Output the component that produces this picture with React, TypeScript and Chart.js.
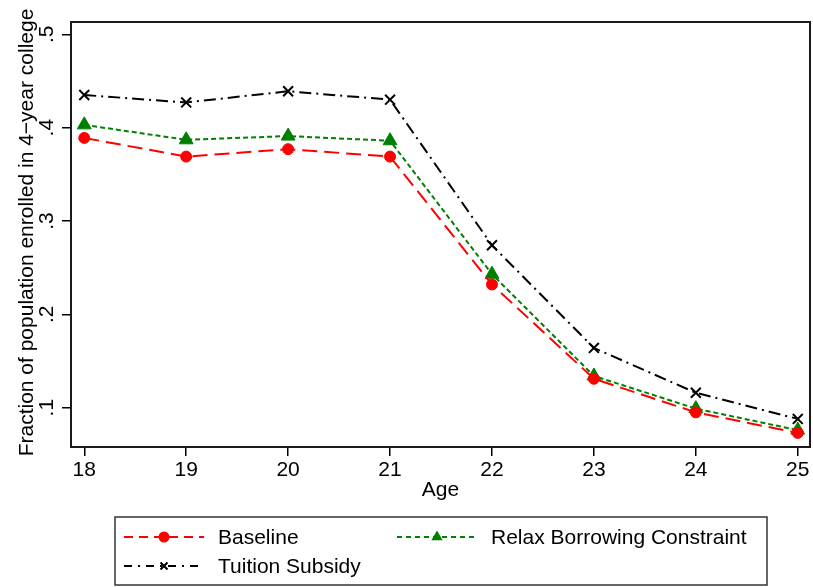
import React, { useEffect, useRef } from "react";
import { Chart, registerables } from "chart.js";

Chart.register(...registerables);

// Enrollment share in 4-year college by age, under three scenarios
const ages = [18, 19, 20, 21, 22, 23, 24, 25];
const baseline = [0.389, 0.369, 0.377, 0.369, 0.232, 0.131, 0.095, 0.073];
const relaxBorrowing = [0.403, 0.387, 0.391, 0.386, 0.243, 0.134, 0.099, 0.076];
const tuitionSubsidy = [0.435, 0.427, 0.439, 0.430, 0.274, 0.164, 0.116, 0.088];

const yTickValues = [0.1, 0.2, 0.3, 0.4, 0.5];
const yTickLabels = [".1", ".2", ".3", ".4", ".5"];

const seriesNames = ["Baseline", "Relax Borrowing Constraint", "Tuition Subsidy"];
const xTitle = "Age";
const yTitle = "Fraction of population enrolled in 4\u2212year college";

const FONT = "'Liberation Sans', Arial, Helvetica, sans-serif";
const FONT_SIZE = 21;

const toPoints = (vals: number[]) => ages.map((a, i) => ({ x: a, y: vals[i] }));

// small marker glyph for the legend keys
function drawMarker(ctx: CanvasRenderingContext2D, style: string, x: number, y: number, r: number, color: string) {
  ctx.save();
  ctx.fillStyle = color;
  ctx.strokeStyle = color;
  ctx.setLineDash([]);
  if (style === "circle") {
    ctx.beginPath();
    ctx.arc(x, y, r, 0, Math.PI * 2);
    ctx.fill();
  } else if (style === "triangle") {
    const h = r * 1.5;
    const w = r * 0.866 * 2;
    ctx.beginPath();
    ctx.moveTo(x, y - h * 0.6667);
    ctx.lineTo(x + w / 2, y + h * 0.3333);
    ctx.lineTo(x - w / 2, y + h * 0.3333);
    ctx.closePath();
    ctx.fill();
  } else {
    ctx.lineWidth = 2;
    ctx.beginPath();
    ctx.moveTo(x - r, y - r);
    ctx.lineTo(x + r, y + r);
    ctx.moveTo(x + r, y - r);
    ctx.lineTo(x - r, y + r);
    ctx.stroke();
  }
  ctx.restore();
}

// Frame, rotated y labels, axis titles and the boxed two-column legend
const decorPlugin = {
  id: "decor",
  afterDraw(chart: any) {
    const { ctx, chartArea } = chart;
    const yScale = chart.scales.y;
    ctx.save();

    // box around the plot region
    ctx.strokeStyle = "#1a1a1a";
    ctx.lineWidth = 2;
    ctx.strokeRect(chartArea.left, chartArea.top, chartArea.right - chartArea.left, chartArea.bottom - chartArea.top);

    ctx.fillStyle = "#000";
    ctx.font = `${FONT_SIZE}px ${FONT}`;

    // vertical y tick labels
    yTickValues.forEach((v, i) => {
      const py = yScale.getPixelForValue(v);
      ctx.save();
      ctx.translate(53, py);
      ctx.rotate(-Math.PI / 2);
      ctx.textAlign = "center";
      ctx.textBaseline = "alphabetic";
      ctx.fillText(yTickLabels[i], 0, 0);
      ctx.restore();
    });

    // y axis title
    ctx.save();
    ctx.translate(33, (chartArea.top + chartArea.bottom) / 2 - 2);
    ctx.rotate(-Math.PI / 2);
    ctx.textAlign = "center";
    ctx.textBaseline = "alphabetic";
    ctx.fillText(yTitle, 0, 0);
    ctx.restore();

    // x axis title
    ctx.textAlign = "center";
    ctx.textBaseline = "alphabetic";
    ctx.fillText(xTitle, (chartArea.left + chartArea.right) / 2, 496);

    // legend
    const box = { left: 115, top: 517, right: 767, bottom: 585 };
    ctx.strokeStyle = "#333";
    ctx.lineWidth = 1.5;
    ctx.strokeRect(box.left, box.top, box.right - box.left, box.bottom - box.top);

    const slots = [
      { x: 124, y: 537 },
      { x: 397, y: 537 },
      { x: 124, y: 566 },
    ];
    chart.data.datasets.forEach((ds: any, i: number) => {
      const s = slots[i];
      const x0 = s.x;
      const x1 = s.x + 80;
      ctx.save();
      ctx.strokeStyle = ds.borderColor;
      ctx.lineWidth = 2;
      ctx.setLineDash(ds.legendDash);
      ctx.beginPath();
      ctx.moveTo(x0, s.y);
      ctx.lineTo(x1, s.y);
      ctx.stroke();
      ctx.restore();
      const r = ds.pointStyle === "crossRot" ? 3.5 : ds.pointStyle === "triangle" ? 6.5 : 5.5;
      drawMarker(ctx, ds.pointStyle, (x0 + x1) / 2, s.y, r, ds.borderColor);
      ctx.fillStyle = "#000";
      ctx.font = `${FONT_SIZE}px ${FONT}`;
      ctx.textAlign = "left";
      ctx.textBaseline = "middle";
      ctx.fillText(ds.label, x1 + 14, s.y + 1);
    });

    ctx.restore();
  },
};

export default function App() {
  const canvasRef = useRef<HTMLCanvasElement | null>(null);

  useEffect(() => {
    const canvas = canvasRef.current;
    if (!canvas) return;
    const ctx = canvas.getContext("2d");
    if (!ctx) return;

    const mk = (
      label: string,
      vals: number[],
      color: string,
      dash: number[],
      legendDash: number[],
      pointStyle: string,
      pointRadius: number,
      pointBorderWidth: number
    ) => ({
      label,
      data: toPoints(vals),
      borderColor: color,
      backgroundColor: color,
      borderWidth: 2,
      borderDash: dash,
      legendDash,
      pointStyle,
      pointRadius,
      pointBackgroundColor: color,
      pointBorderColor: color,
      pointBorderWidth,
      tension: 0,
      fill: false,
    });

    const datasets: any[] = [
      mk(seriesNames[0], baseline, "#ff0000", [15, 7], [9, 6], "circle", 5.5, 1),
      mk(seriesNames[1], relaxBorrowing, "#008000", [5, 3], [5, 4], "triangle", 8, 1),
      mk(seriesNames[2], tuitionSubsidy, "#000000", [12, 5, 2, 5], [8, 6, 2, 6], "crossRot", 7, 2),
    ];

    const chart = new Chart(ctx, {
      type: "line",
      data: { datasets },
      options: {
        responsive: false,
        animation: false,
        devicePixelRatio: 1,
        layout: { autoPadding: false, padding: { top: 22, right: 3, left: 0, bottom: 0 } },
        plugins: {
          legend: { display: false },
          tooltip: { enabled: false },
        },
        scales: {
          x: {
            type: "linear",
            min: 17.87,
            max: 25.12,
            afterBuildTicks: (scale: any) => {
              scale.ticks = ages.map((v) => ({ value: v }));
            },
            afterFit: (scale: any) => {
              scale.height = 140;
              scale.paddingLeft = 0;
              scale.paddingRight = 0;
            },
            grid: {
              display: true,
              drawOnChartArea: false,
              drawTicks: true,
              tickLength: 9,
              color: "#000",
              lineWidth: 1.5,
            },
            border: { display: false },
            ticks: {
              color: "#000",
              font: { family: FONT, size: FONT_SIZE },
              padding: 2,
              maxRotation: 0,
              autoSkip: false,
              callback: (v: any) => String(v),
            },
          },
          y: {
            type: "linear",
            min: 0.0579,
            max: 0.5132,
            afterBuildTicks: (scale: any) => {
              scale.ticks = yTickValues.map((v) => ({ value: v }));
            },
            afterFit: (scale: any) => {
              scale.width = 71;
              scale.paddingTop = 0;
              scale.paddingBottom = 0;
            },
            grid: {
              display: true,
              drawOnChartArea: false,
              drawTicks: true,
              tickLength: 9,
              color: "#000",
              lineWidth: 1.5,
            },
            border: { display: false },
            ticks: { display: false },
          },
        },
      } as any,
      plugins: [decorPlugin],
    });

    return () => {
      chart.destroy();
    };
  }, []);

  return (
    <div style={{ position: "fixed", left: 0, top: 0, width: 813, height: 587, background: "#fff" }}>
      <canvas ref={canvasRef} width={813} height={587} style={{ display: "block", width: 813, height: 587 }} />
    </div>
  );
}
